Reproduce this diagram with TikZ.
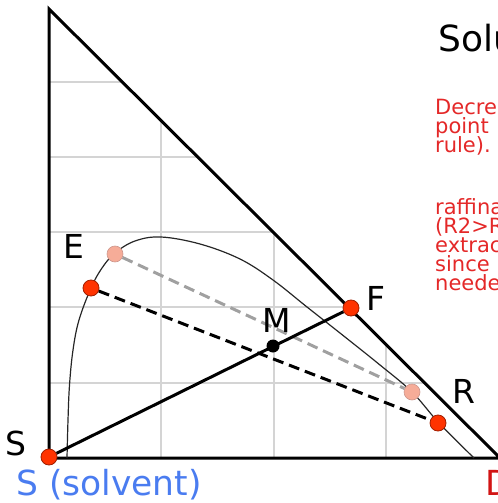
\documentclass[tikz,border=0pt]{standalone}
\usepackage{fontspec}
\setmainfont{DejaVu Sans}
\definecolor{gridgray}{RGB}{212,212,212}
\definecolor{dotred}{RGB}{255,51,0}
\definecolor{dotedge}{RGB}{160,30,0}
\definecolor{dotpink}{RGB}{246,172,152}
\definecolor{pinkedge}{RGB}{205,150,140}
\definecolor{tiegray}{RGB}{160,160,160}
\definecolor{notered}{RGB}{228,40,40}
\definecolor{solventblue}{RGB}{74,124,240}
\definecolor{dilred}{RGB}{210,20,20}
\begin{document}
\begin{tikzpicture}[x=1bp,y=-1bp,
  gridline/.style={gridgray,line width=1.4bp},
  frame/.style={line width=3bp,line join=miter},
  binodal/.style={line width=1.2bp,black!85},
  reddot/.style={circle,fill=dotred,draw=dotedge,line width=0.8bp,minimum size=16bp,inner sep=0},
  pinkdot/.style={circle,fill=dotpink,draw=pinkedge,line width=0.6bp,minimum size=16bp,inner sep=0},
  blackdot/.style={circle,fill=black,minimum size=13bp,inner sep=0},
  solidtie/.style={line width=3bp},
  blacktie/.style={line width=3bp,dash pattern=on 11bp off 6bp},
  graytie/.style={tiegray,line width=3bp,dash pattern=on 11bp off 6bp},
  lbl/.style={font=\fontsize{33bp}{38bp}\selectfont,inner sep=0},
  note/.style={font=\fontsize{21bp}{19bp}\selectfont,text=notered,inner sep=0,anchor=base west},
  big/.style={font=\fontsize{34.5bp}{40bp}\selectfont,inner sep=0,anchor=base west},
  titletext/.style={font=\fontsize{36bp}{40bp}\selectfont,inner sep=0,anchor=base west}]
\useasboundingbox (0,0) rectangle (498,503);
% triangle corners
\coordinate (top) at (49,9);
\coordinate (corner) at (49,458);
\coordinate (dcorner) at (500,458);
% grid, clipped to the triangle
\begin{scope}
  \clip (top) -- (corner) -- (dcorner) -- cycle;
  \foreach \gx in {161,274,386} \draw[gridline] (\gx,0) -- (\gx,460);
  \foreach \gy in {82,157,232,307,383} \draw[gridline] (40,\gy) -- (500,\gy);
\end{scope}
% triangle
\draw[frame] (top) -- (corner) -- (dcorner) -- cycle;
% binodal curve
\draw[binodal] plot[smooth,tension=0.6] coordinates {(67,458) (68,420) (69.5,385) (73,350) (79,320) (91,288) (102,268) (115,253) (135,241) (161,237) (200,244) (240,259) (273,280) (307,307) (345,337) (380,365) (412,392) (439,423) (474,458)};
% points
\node[reddot] (S) at (49,457) {};
\node[reddot] (E) at (91,288) {};
\node[pinkdot] (E2) at (115,254) {};
\node[reddot] (F) at (351,308) {};
\node[blackdot] (M) at (273,346) {};
\node[pinkdot] (R2) at (412,392) {};
\node[reddot] (R) at (438,423) {};
% connectors
\draw[graytie] (E2) -- (R2);
\draw[blacktie] (E) -- (R);
\draw[solidtie] (S) -- (F);
% labels
\node[lbl] (lE) at (73.5,246) {E};
\node[lbl] (lF) at (376,298) {F};
\node[lbl] (lM) at (277,320) {M};
\node[lbl] (lR) at (464,391) {R};
\node[lbl] (lS) at (16,443) {S};
\node[big,text=solventblue] (solvent) at (16,495) {S (solvent)};
\node[big,text=dilred] (dil) at (485,495) {D};
\node[titletext] (title) at (438,52) {Solu};
% notes
\node[note] (n1) at (435,115) {Decre};
\node[note] (n2) at (435,134) {point};
\node[note] (n3) at (435,153) {rule).};
\node[note] (n4) at (435,214) {raffinat};
\node[note] (n5) at (435,233) {(R2>R};
\node[note] (n6) at (435,252) {extract};
\node[note] (n7) at (435,271) {since};
\node[note] (n8) at (435,290) {needed};
\end{tikzpicture}
\end{document}
